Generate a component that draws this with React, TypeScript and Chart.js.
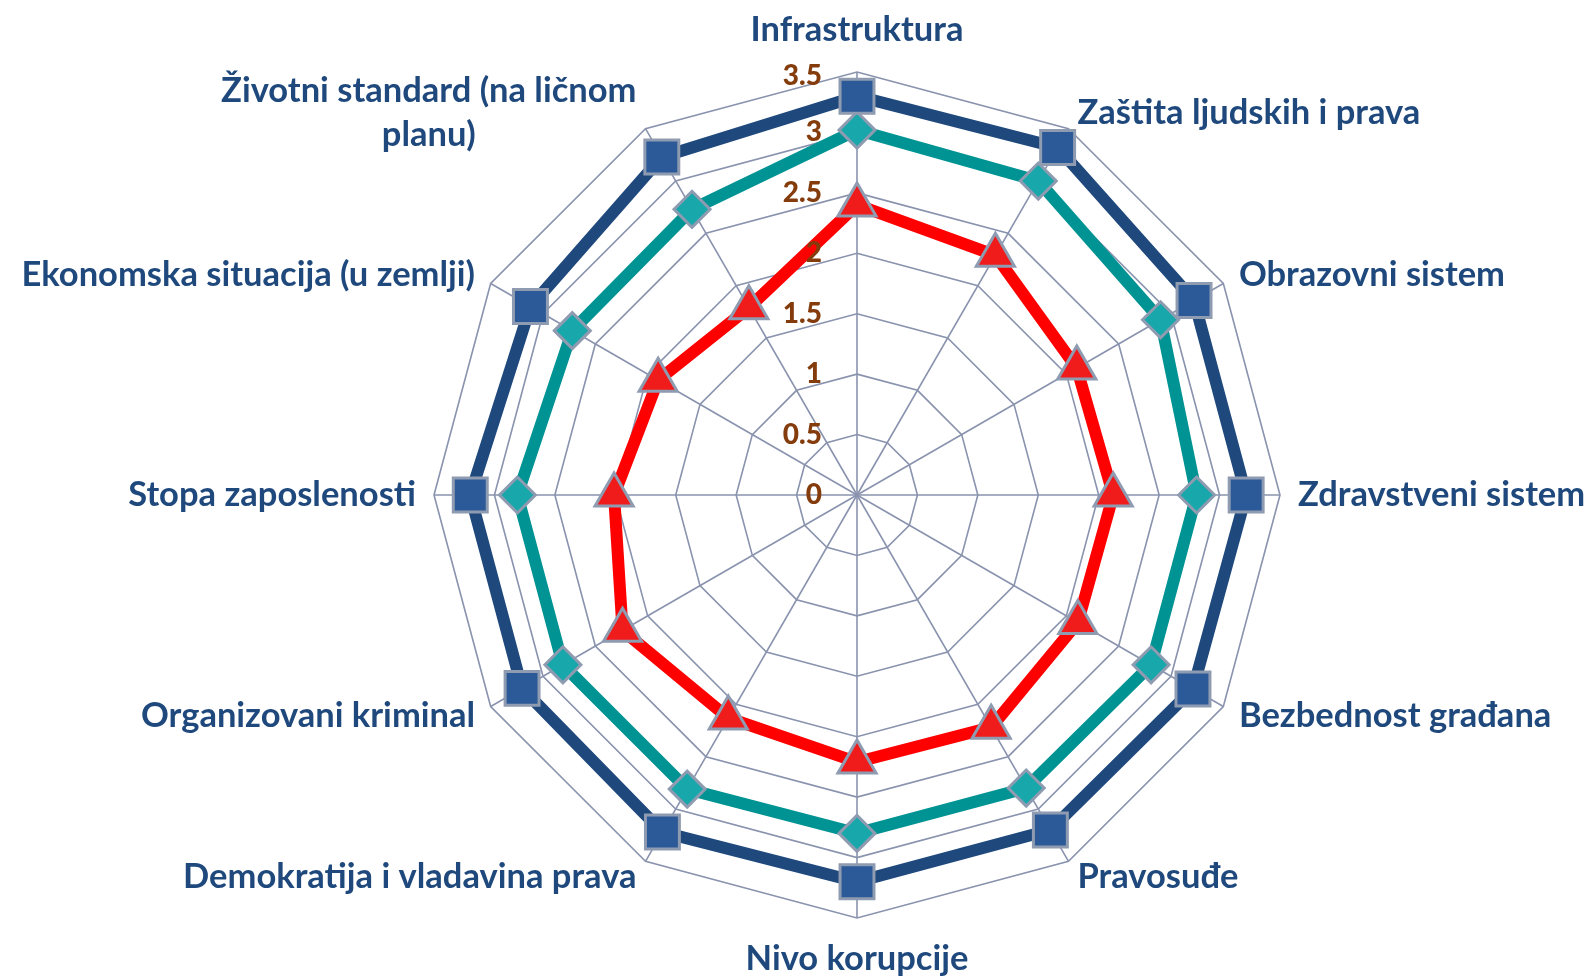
import React, { useEffect, useRef } from "react";
import { Chart, registerables } from "chart.js";

Chart.register(...registerables);

const categories = [
  "Infrastruktura",
  "Zaštita ljudskih i prava",
  "Obrazovni sistem",
  "Zdravstveni sistem",
  "Bezbednost građana",
  "Pravosuđe",
  "Nivo korupcije",
  "Demokratija i vladavina prava",
  "Organizovani kriminal",
  "Stopa zaposlenosti",
  "Ekonomska situacija (u zemlji)",
  ["Životni standard (na ličnom", "planu)"],
];

const seriesNavy = [3.3, 3.32, 3.22, 3.22, 3.21, 3.2, 3.2, 3.22, 3.2, 3.2, 3.12, 3.23];
const seriesTeal = [3.02, 3.0, 2.9, 2.81, 2.81, 2.8, 2.8, 2.81, 2.81, 2.81, 2.72, 2.73];
const seriesRed = [2.4, 2.29, 2.1, 2.12, 2.11, 2.22, 2.21, 2.13, 2.24, 2.01, 1.9, 1.79];

const tickValues = [0, 0.5, 1, 1.5, 2, 2.5, 3, 3.5];
const tickLabels = ["0", "0.5", "1", "1.5", "2", "2.5", "3", "3.5"];

const LABEL_FONT = "bold 34.5px Lato";
const TICK_FONT = "900 28px Lato";

const labelPlugin = {
  id: "customLabels",
  afterDraw(chart: any) {
    const scale = chart.scales.r;
    const ctx = chart.ctx;
    const cx = scale.xCenter;
    const cy = scale.yCenter;
    ctx.save();
    // tick labels
    ctx.font = TICK_FONT;
    ctx.fillStyle = "#843C0C";
    ctx.textAlign = "right";
    ctx.textBaseline = "middle";
    tickValues.forEach((v, i) => {
      const d = scale.getDistanceFromCenterForValue(v);
      ctx.fillText(tickLabels[i], cx - 35, cy - d + (i === tickValues.length - 1 ? 4 : 0));
    });
    // point labels
    ctx.font = LABEL_FONT;
    ctx.fillStyle = "#1F497D";
    const R = scale.drawingArea;
    const n = categories.length;
    categories.forEach((lab, i) => {
      const angleDeg = (i * 360) / n;
      const extra = angleDeg === 0 ? 24 : angleDeg === 180 ? 23 : 0;
      const p = scale.getPointPosition(i, R + 18 + extra);
      const lines = Array.isArray(lab) ? lab : [lab];
      const widths = lines.map((t) => ctx.measureText(t).width);
      const maxW = Math.max(...widths);
      let blockCenter = p.x;
      if (angleDeg > 0 && angleDeg < 180) blockCenter = p.x + maxW / 2;
      else if (angleDeg > 180) blockCenter = p.x - maxW / 2;
      ctx.textAlign = "center";
      ctx.textBaseline = "middle";
      const lh = 44;
      const y0 = p.y - ((lines.length - 1) * lh) / 2;
      lines.forEach((t, k) => ctx.fillText(t, blockCenter, y0 + k * lh));
    });
    ctx.restore();
  },
};

export default function App() {
  const ref = useRef<HTMLCanvasElement | null>(null);
  useEffect(() => {
    document.body.style.margin = "0";
    const canvas = ref.current;
    if (!canvas) return;
    const border = "#8E9BB0";
    const chart = new Chart(canvas, {
      type: "radar",
      data: {
        labels: categories as any,
        datasets: [
          {
            label: "A",
            data: seriesNavy,
            borderColor: "#1F497D",
            borderWidth: 12,
            fill: false,
            pointStyle: "rect",
            pointRadius: 24,
            pointBackgroundColor: "#2C5A98",
            pointBorderColor: border,
            pointBorderWidth: 3,
          },
          {
            label: "B",
            data: seriesTeal,
            borderColor: "#009393",
            borderWidth: 12,
            fill: false,
            pointStyle: "rectRot",
            pointRadius: 18,
            pointBackgroundColor: "#18A8AB",
            pointBorderColor: border,
            pointBorderWidth: 3,
          },
          {
            label: "C",
            data: seriesRed,
            borderColor: "#FF0000",
            borderWidth: 12,
            fill: false,
            pointStyle: "triangle",
            pointRadius: 22,
            pointBackgroundColor: "#F01C1C",
            pointBorderColor: border,
            pointBorderWidth: 3,
          },
        ],
      },
      options: {
        responsive: false,
        animation: false,
        layout: { padding: { left: 434, right: 307, top: 72, bottom: 59 } },
        plugins: { legend: { display: false }, tooltip: { enabled: false } },
        elements: { line: { tension: 0 } },
        scales: {
          r: {
            min: 0,
            max: 3.5,
            ticks: { stepSize: 0.5, display: false, showLabelBackdrop: false },
            grid: { color: "#8A93AE", lineWidth: 1.6, circular: false },
            angleLines: { color: "#8A93AE", lineWidth: 1.6 },
            pointLabels: { display: false },
          },
        },
      },
      plugins: [labelPlugin],
    });
    return () => chart.destroy();
  }, []);
  return (
    <div style={{ width: 1587, height: 977, background: "#fff" }}>
      <canvas ref={ref} width={1587} height={977} style={{ display: "block" }} />
    </div>
  );
}
